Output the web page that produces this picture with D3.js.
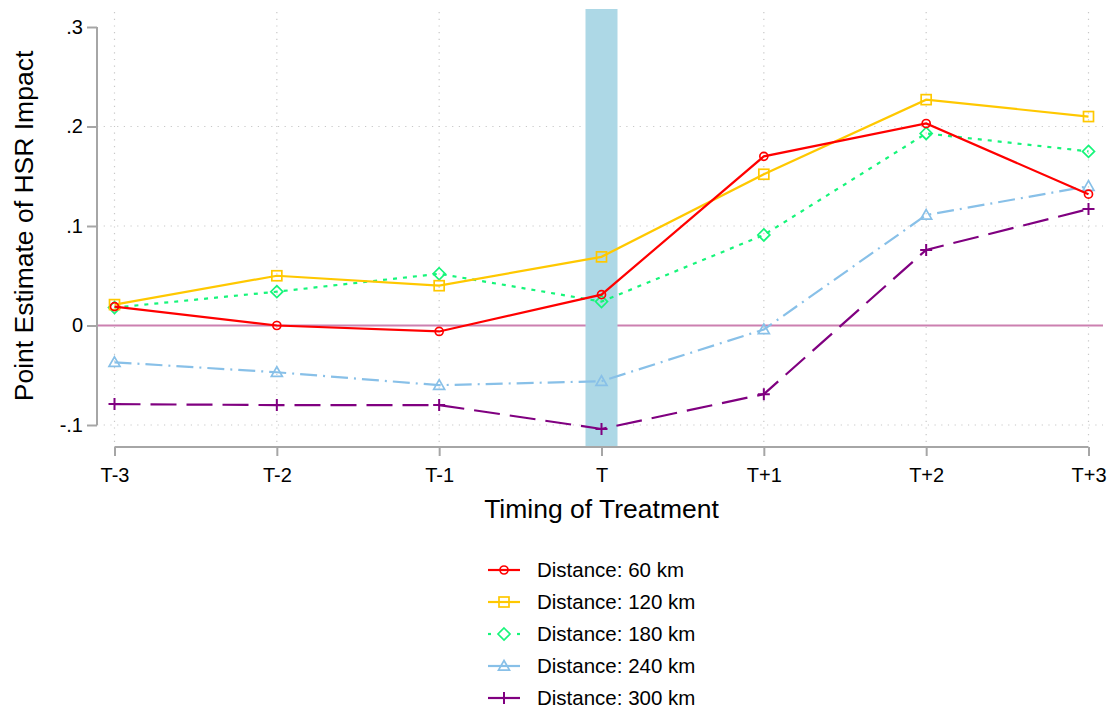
<!DOCTYPE html>
<html>
<head>
<meta charset="utf-8">
<script src="https://cdn.jsdelivr.net/npm/d3@7"></script>
<style>
  html, body { margin: 0; padding: 0; background: #fff; }
  svg { display: block; font-family: Arial, "Liberation Sans", sans-serif; }
</style>
</head>
<body>
<svg id="chart" width="1107" height="711"></svg>
<script>
// Event-study periods relative to HSR opening
const periods = ["T-3", "T-2", "T-1", "T", "T+1", "T+2", "T+3"];
const treatPeriod = "T";

// Point estimates by distance band
const dist60  = [0.019, 0.000, -0.006, 0.031, 0.170, 0.203, 0.132];
const dist120 = [0.021, 0.050, 0.040, 0.069, 0.152, 0.227, 0.210];
const dist180 = [0.018, 0.034, 0.052, 0.024, 0.091, 0.193, 0.175];
const dist240 = [-0.037, -0.047, -0.060, -0.056, -0.004, 0.111, 0.140];
const dist300 = [-0.079, -0.080, -0.080, -0.104, -0.069, 0.076, 0.117];

const seriesNames = ["Distance: 60 km", "Distance: 120 km", "Distance: 180 km", "Distance: 240 km", "Distance: 300 km"];
const yTicks = [-0.1, 0, 0.1, 0.2, 0.3];
const yTickLabels = ["-.1", "0", ".1", ".2", ".3"];

const series = [
  { name: seriesNames[0], values: dist60,  color: "#ff0000", dash: null,          marker: "circle" },
  { name: seriesNames[1], values: dist120, color: "#ffc800", dash: null,          marker: "square" },
  { name: seriesNames[2], values: dist180, color: "#16f57a", dash: "4,6",         marker: "diamond" },
  { name: seriesNames[3], values: dist240, color: "#88c0e8", dash: "17,6,2,6",    marker: "triangle" },
  { name: seriesNames[4], values: dist300, color: "#800080", dash: "26,10",       marker: "plus" }
];

const svg = d3.select("#chart");

const plot = { left: 97, right: 1103, top: 9, bottom: 447 };
const x = d3.scalePoint().domain(periods).range([114.5, 1088.5]);
const y = d3.scaleLinear().domain([-0.1, 0.3]).range([425, 27]);

const gridColor = "#c8c8c8";
const axisColor = "#a6a6a6";

// Horizontal dotted gridlines
svg.append("g").selectAll("line")
  .data(yTicks.filter(d => d < 0.3))
  .join("line")
  .attr("x1", plot.left).attr("x2", plot.right)
  .attr("y1", d => y(d)).attr("y2", d => y(d))
  .attr("stroke", gridColor).attr("stroke-width", 1.2)
  .attr("stroke-dasharray", "1.2,5.5");

// Vertical dotted gridlines
svg.append("g").selectAll("line")
  .data(periods)
  .join("line")
  .attr("x1", d => x(d)).attr("x2", d => x(d))
  .attr("y1", 12).attr("y2", plot.bottom)
  .attr("stroke", gridColor).attr("stroke-width", 1.2)
  .attr("stroke-dasharray", "1.2,5.5");

// Zero reference line
svg.append("line")
  .attr("x1", plot.left).attr("x2", plot.right)
  .attr("y1", y(0)).attr("y2", y(0))
  .attr("stroke", "#cc80b0").attr("stroke-width", 2);

// Treatment-period band
const bandW = 32;
svg.append("rect")
  .attr("x", x(treatPeriod) - bandW / 2)
  .attr("y", plot.top)
  .attr("width", bandW)
  .attr("height", plot.bottom - plot.top)
  .attr("fill", "#add8e6");

// Y axis
const yAxis = svg.append("g").attr("transform", `translate(${plot.left},0)`)
  .call(d3.axisLeft(y).tickValues(yTicks).tickFormat((d, i) => yTickLabels[i]).tickSize(10).tickPadding(4));
yAxis.select(".domain").attr("d", `M0,${y(0.3)}V${y(-0.1)}`);

// X axis
const xAxis = svg.append("g").attr("transform", `translate(0,${plot.bottom})`)
  .call(d3.axisBottom(x).tickSize(9).tickPadding(12));
xAxis.select(".domain").attr("d", `M${x(periods[0])},0H${x(periods[periods.length - 1])}`);

[yAxis, xAxis].forEach(g => {
  g.selectAll(".domain").attr("stroke", axisColor).attr("stroke-width", 2);
  g.selectAll(".tick line").attr("stroke", axisColor).attr("stroke-width", 2);
  g.selectAll(".tick text").attr("fill", "#000").attr("font-size", 20)
    .attr("font-family", "Arial, 'Liberation Sans', sans-serif");
});

// Axis titles
svg.append("text")
  .attr("transform", `translate(33,${(y(0.3) + y(-0.1)) / 2}) rotate(-90)`)
  .attr("text-anchor", "middle")
  .attr("font-size", 26.5)
  .attr("fill", "#000")
  .text("Point Estimate of HSR Impact");

svg.append("text")
  .attr("x", (x(periods[0]) + x(periods[periods.length - 1])) / 2)
  .attr("y", 518)
  .attr("text-anchor", "middle")
  .attr("font-size", 26.5)
  .attr("fill", "#000")
  .text("Timing of Treatment");

// Marker drawing helper
function drawMarker(g, type, cx, cy, color) {
  const sw = 1.7;
  if (type === "circle") {
    g.append("circle").attr("cx", cx).attr("cy", cy).attr("r", 4)
      .attr("fill", "none").attr("stroke", color).attr("stroke-width", sw);
  } else if (type === "square") {
    g.append("rect").attr("x", cx - 5).attr("y", cy - 5).attr("width", 10).attr("height", 10)
      .attr("fill", "none").attr("stroke", color).attr("stroke-width", sw);
  } else if (type === "diamond") {
    const r = 6;
    g.append("path").attr("d", `M${cx},${cy - r}L${cx + r},${cy}L${cx},${cy + r}L${cx - r},${cy}Z`)
      .attr("fill", "none").attr("stroke", color).attr("stroke-width", sw);
  } else if (type === "triangle") {
    const r = 5.5;
    g.append("path").attr("d", `M${cx},${cy - r}L${cx + r},${cy + r * 0.75}L${cx - r},${cy + r * 0.75}Z`)
      .attr("fill", "none").attr("stroke", color).attr("stroke-width", sw);
  } else if (type === "plus") {
    const r = 6;
    g.append("path").attr("d", `M${cx - r},${cy}H${cx + r}M${cx},${cy - r}V${cy + r}`)
      .attr("fill", "none").attr("stroke", color).attr("stroke-width", 2);
  }
}

// Series lines and markers
const line = d3.line().x((d, i) => x(periods[i])).y(d => y(d));
series.slice().reverse().forEach(s => {
  const g = svg.append("g");
  g.append("path")
    .attr("d", line(s.values))
    .attr("fill", "none")
    .attr("stroke", s.color)
    .attr("stroke-width", 2.2)
    .attr("stroke-dasharray", s.dash);
  s.values.forEach((v, i) => drawMarker(g, s.marker, x(periods[i]), y(v), s.color));
});

// Legend
const legend = svg.append("g");
const legendX = 488, legendY0 = 570, legendStep = 32;
series.forEach((s, i) => {
  const ly = legendY0 + i * legendStep;
  const g = legend.append("g");
  if (s.marker === "diamond") {
    g.append("line").attr("x1", legendX).attr("x2", legendX + 3).attr("y1", ly).attr("y2", ly)
      .attr("stroke", s.color).attr("stroke-width", 2.2);
    g.append("line").attr("x1", legendX + 29).attr("x2", legendX + 32).attr("y1", ly).attr("y2", ly)
      .attr("stroke", s.color).attr("stroke-width", 2.2);
  } else {
    g.append("line").attr("x1", legendX).attr("x2", legendX + 32).attr("y1", ly).attr("y2", ly)
      .attr("stroke", s.color).attr("stroke-width", 2.2);
  }
  drawMarker(g, s.marker, legendX + 16, ly, s.color);
  g.append("text")
    .attr("x", 537).attr("y", ly)
    .attr("dy", "0.36em")
    .attr("font-size", 20.5)
    .attr("fill", "#000")
    .text(s.name);
});
</script>
</body>
</html>
